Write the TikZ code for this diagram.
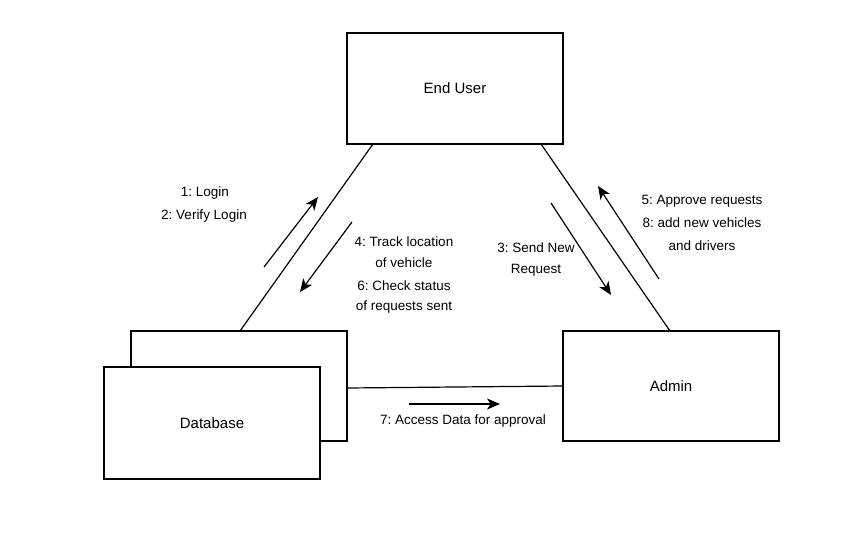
\documentclass[tikz,border=0pt]{standalone}
\usepackage{fontspec}
\setmainfont{Liberation Sans}
\usetikzlibrary{arrows.meta}
\frenchspacing
\begin{document}
\begin{tikzpicture}[x=1pt,y=-1pt,
  box/.style={draw,line width=1.2pt,fill=white,minimum width=216pt,inner sep=0pt,font=\fontsize{15}{18}\selectfont},
  lbl/.style={font=\fontsize{13.5}{16}\selectfont,inner sep=0pt,align=center},
  conn/.style={line width=1.2pt},
  msg/.style={line width=1.2pt,-{Stealth[length=13pt,width=11pt,inset=3.5pt]}}]
\useasboundingbox (0,0) rectangle (850,533);
\node[box,minimum height=111pt] (eu) at (455,88.5) {End User};
\node[box,minimum height=110pt] (ad) at (671,386) {Admin};
\node[box,minimum height=110pt] (dbb) at (239,386) {};
\node[box,minimum height=112pt] (db) at (212,423) {Database};
% connectors
\coordinate (eul) at (373,144);
\coordinate (eur) at (541,144);
\coordinate (dbt) at (240,331);
\coordinate (adt) at (670,331);
\coordinate (dbr) at (347,388);
\coordinate (adl) at (563,386);
\draw[conn] (eul) -- (dbt);
\draw[conn] (eur) -- (adt);
\draw[conn] (dbr) -- (adl);
% message arrows
\coordinate (a1s) at (264,267); \coordinate (a1e) at (318,197);
\coordinate (a2s) at (352,222); \coordinate (a2e) at (300,292);
\coordinate (a3s) at (551,203); \coordinate (a3e) at (611,295);
\coordinate (a4s) at (659,279); \coordinate (a4e) at (598,186);
\coordinate (a5s) at (409,404); \coordinate (a5e) at (500,404);
\draw[msg] (a1s) -- (a1e);
\draw[msg] (a2s) -- (a2e);
\draw[msg] (a3s) -- (a3e);
\draw[msg] (a4s) -- (a4e);
\draw[msg] (a5s) -- (a5e);
% labels
\node[lbl] (l1) at (205,193.5) {1: Login};
\node[lbl] (l2) at (204,216.5) {2: Verify Login};
\node[lbl] (l4) at (404,241.5) {4: Track location};
\node[lbl] (l4b) at (404,262.5) {of vehicle};
\node[lbl] (l6) at (404,285.5) {6: Check status};
\node[lbl] (l6b) at (404,307.5) {of requests sent};
\node[lbl] (l3) at (536,247.5) {3: Send New};
\node[lbl] (l3b) at (536,270.5) {Request};
\node[lbl] (l5) at (702,201.5) {5: Approve requests};
\node[lbl] (l8) at (702,222.5) {8: add new vehicles};
\node[lbl] (l8b) at (702,245.5) {and drivers};
\node[lbl] (l7) at (463,421.5) {7: Access Data for approval};
\end{tikzpicture}
\end{document}
